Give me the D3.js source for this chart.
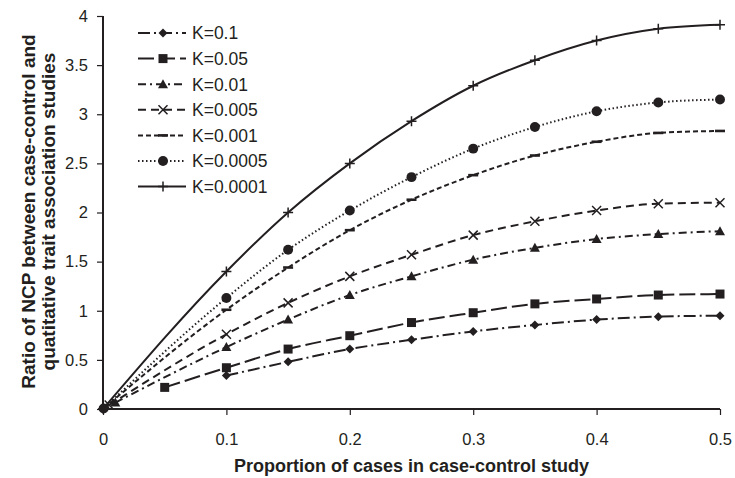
<!DOCTYPE html>
<html>
<head>
<meta charset="utf-8">
<script src="https://cdn.jsdelivr.net/npm/d3@7"></script>
<style>
  body { margin: 0; background: #fff; }
  svg { display: block; font-family: "Liberation Sans", Arial, Helvetica, sans-serif; }
</style>
</head>
<body>
<svg id="chart" width="735" height="478"></svg>
<script>
// values
const seriesNames = ["K=0.1", "K=0.05", "K=0.01", "K=0.005", "K=0.001", "K=0.0005", "K=0.0001"];

const xK01    = [0.1, 0.15, 0.2, 0.25, 0.3, 0.35, 0.4, 0.45, 0.5];
const yK01    = [0.34, 0.48, 0.61, 0.705, 0.79, 0.855, 0.91, 0.94, 0.95];
const xK005   = [0.05, 0.1, 0.15, 0.2, 0.25, 0.3, 0.35, 0.4, 0.45, 0.5];
const yK005   = [0.22, 0.42, 0.61, 0.746, 0.88, 0.98, 1.07, 1.12, 1.16, 1.17];
const xK001   = [0.01, 0.1, 0.15, 0.2, 0.25, 0.3, 0.35, 0.4, 0.45, 0.5];
const yK001   = [0.065, 0.63, 0.91, 1.16, 1.35, 1.52, 1.64, 1.73, 1.78, 1.81];
const xK0005  = [0.005, 0.1, 0.15, 0.2, 0.25, 0.3, 0.35, 0.4, 0.45, 0.5];
const yK0005  = [0.04, 0.76, 1.08, 1.35, 1.57, 1.77, 1.91, 2.02, 2.09, 2.10];
const xK0001  = [0.001, 0.1, 0.15, 0.2, 0.25, 0.3, 0.35, 0.4, 0.45, 0.5];
const yK0001  = [0.011, 1.01, 1.44, 1.82, 2.13, 2.38, 2.58, 2.72, 2.81, 2.83];
const xK00005 = [0.0005, 0.1, 0.15, 0.2, 0.25, 0.3, 0.35, 0.4, 0.45, 0.5];
const yK00005 = [0.006, 1.13, 1.62, 2.02, 2.36, 2.65, 2.87, 3.03, 3.12, 3.15];
const xK00001 = [0.0001, 0.1, 0.15, 0.2, 0.25, 0.3, 0.35, 0.4, 0.45, 0.5];
const yK00001 = [0.0015, 1.40, 2.0, 2.50, 2.93, 3.29, 3.55, 3.75, 3.87, 3.91];

const xTicks = [0, 0.1, 0.2, 0.3, 0.4, 0.5];
const yTicks = [0, 0.5, 1, 1.5, 2, 2.5, 3, 3.5, 4];

const xTitle = "Proportion of cases in case-control study";
const yTitle = ["Ratio of NCP between case-control and", "quatitative trait association studies"];

const xsAll = [xK01, xK005, xK001, xK0005, xK0001, xK00005, xK00001];
const ysAll = [yK01, yK005, yK001, yK0005, yK0001, yK00005, yK00001];

// styles, one per series
const dashes  = ["12,4,2,4", "16,5", "8,4,2,4", "8,5", "5,3", "1.5,2.5", null];
const markers = ["diamond", "square", "triangle", "x", "bar", "circle", "plus"];

const ink = "#231f20";
const L = 103, R = 720, T = 16, B = 409;

const svg = d3.select("#chart");
const x = d3.scaleLinear().domain([0, 0.5]).range([L, R]);
const y = d3.scaleLinear().domain([0, 4]).range([B, T]);

// axes
const xAxis = svg.append("g").attr("transform", `translate(0,${B})`)
  .call(d3.axisBottom(x).tickValues(xTicks).tickSize(6).tickPadding(18).tickFormat(d3.format("")));
const yAxis = svg.append("g").attr("transform", `translate(${L},0)`)
  .call(d3.axisLeft(y).tickValues(yTicks).tickSize(6).tickPadding(9).tickFormat(d3.format("")));
[xAxis, yAxis].forEach(a => {
  a.select(".domain").attr("stroke", ink).attr("stroke-width", 2);
  a.selectAll(".tick line").attr("stroke", ink).attr("stroke-width", 1.2);
  a.selectAll(".tick text").attr("fill", ink).style("font-size", "16.5px")
    .style("font-family", "'Liberation Sans', Arial, sans-serif");
});
xAxis.select(".domain").attr("d", `M${L},0H${R}`);
yAxis.select(".domain").attr("d", `M0,${T}V${B}`);

// marker paths
function markerPath(type) {
  switch (type) {
    case "diamond": return "M0,-4.5L4.5,0L0,4.5L-4.5,0Z";
    case "square": return "M-4.5,-4.5H4.5V4.5H-4.5Z";
    case "triangle": return "M0,-5L5,4H-5Z";
    case "x": return "M-4.5,-4.5L4.5,4.5M4.5,-4.5L-4.5,4.5";
    case "bar": return "M-5,-1.3H5V1.3H-5Z";
    case "circle": return d3.symbol(d3.symbolCircle, 78)();
    case "plus": return "M0,-5V5M-5,0H5";
  }
}
function drawMarker(g, type, cx, cy) {
  const stroked = type === "x" || type === "plus";
  g.append("path").attr("d", markerPath(type))
    .attr("transform", `translate(${cx},${cy})`)
    .attr("fill", stroked ? "none" : ink)
    .attr("stroke", stroked ? ink : "none")
    .attr("stroke-width", stroked ? 1.5 : 0);
}

const line = d3.line().x(d => x(d[0])).y(d => y(d[1])).curve(d3.curveMonotoneX);

const plot = svg.append("g");
seriesNames.forEach((name, i) => {
  const pts = xsAll[i].map((v, j) => [v, ysAll[i][j]]);
  const g = plot.append("g");
  g.append("path").datum(pts).attr("d", line)
    .attr("fill", "none").attr("stroke", ink).attr("stroke-width", 2)
    .attr("stroke-dasharray", dashes[i]);
  pts.forEach(p => drawMarker(g, markers[i], x(p[0]), y(p[1])));
});

// legend
const leg = svg.append("g");
seriesNames.forEach((name, i) => {
  const ly = 33 + i * 25.6;
  leg.append("line").attr("x1", 138).attr("x2", 186).attr("y1", ly).attr("y2", ly)
    .attr("stroke", ink).attr("stroke-width", 2).attr("stroke-dasharray", dashes[i]);
  drawMarker(leg, markers[i], 163, ly);
  leg.append("text").attr("x", 192).attr("y", ly + 6.3).attr("fill", ink)
    .style("font-size", "17.5px").text(name);
});

// titles
svg.append("text").attr("x", (L + R) / 2).attr("y", 472).attr("text-anchor", "middle")
  .attr("fill", ink).style("font-size", "18px").style("font-weight", "bold").text(xTitle);
yTitle.forEach((t, i) => {
  svg.append("text").attr("transform", `translate(${35 + i * 19.5},${(T + B) / 2 - 1}) rotate(-90)`)
    .attr("text-anchor", "middle").attr("fill", ink)
    .style("font-size", "19px").style("font-weight", "bold").text(t);
});
</script>
</body>
</html>
